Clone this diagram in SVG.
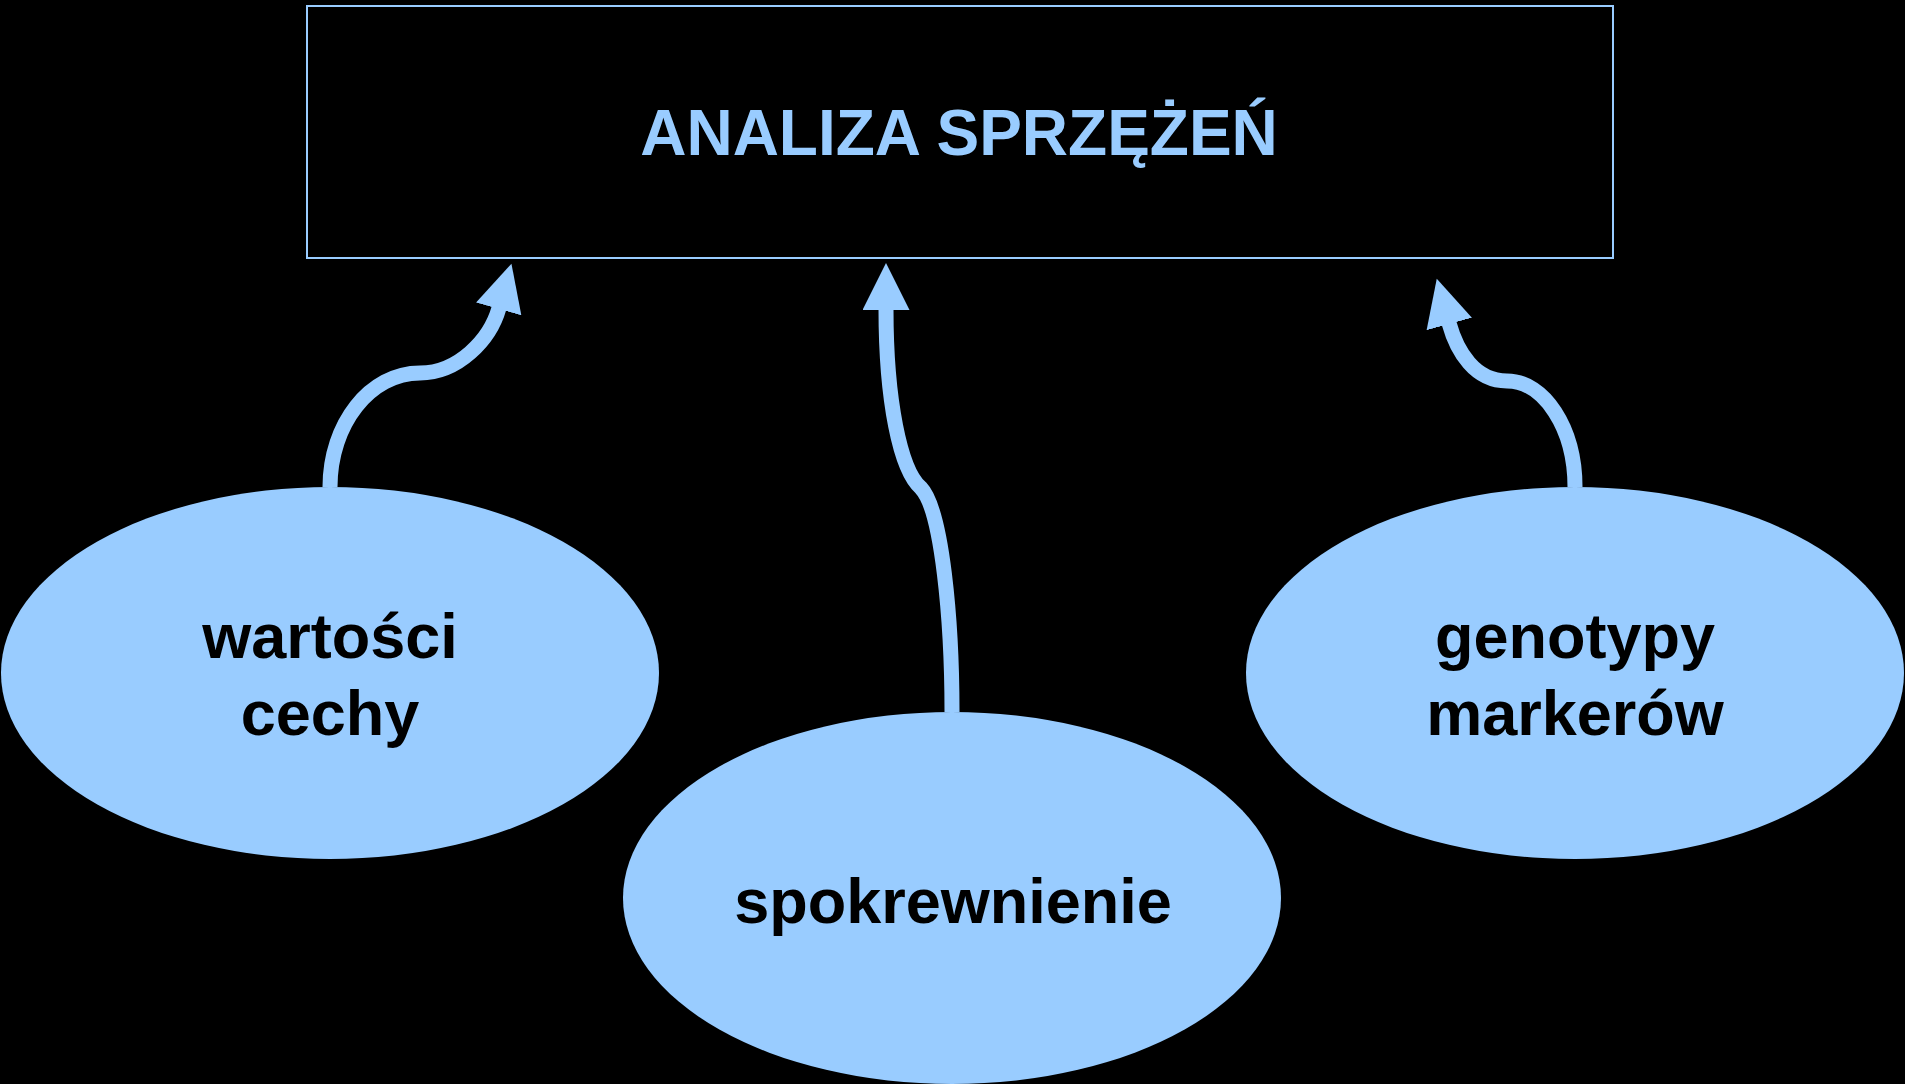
<svg xmlns="http://www.w3.org/2000/svg" width="1905" height="1084" viewBox="0 0 1905 1084">
<style>
.node-shape{fill:#99ccff;stroke:none}
.node-text{font-family:"Liberation Sans",Arial,sans-serif;font-weight:bold;font-size:63px;fill:#000;text-anchor:middle}
.title-text{font-family:"Liberation Sans",Arial,sans-serif;font-weight:bold;font-size:64px;fill:#99ccff;text-anchor:middle}
.conn{fill:none;stroke:#99ccff;stroke-width:15;marker-end:url(#head)}
</style>
<defs>
<marker id="head" markerUnits="userSpaceOnUse" markerWidth="48" markerHeight="48" viewBox="0 0 48 48" refX="1" refY="23.5" orient="auto">
<path d="M0,0 L47,23.5 L0,47 Z" fill="#99ccff"/>
</marker>
</defs>
<rect x="0" y="0" width="1905" height="1084" fill="#000"/>
<g id="analiza">
<rect x="307" y="6" width="1306" height="252" fill="none" stroke="#99ccff" stroke-width="2"/>
<text class="title-text" x="959" y="155">ANALIZA SPRZĘŻEŃ</text>
</g>
<g id="wartosci">
<ellipse class="node-shape" cx="330" cy="673" rx="329" ry="186"/>
<text class="node-text" x="330" y="658">wartości</text>
<text class="node-text" x="330" y="735">cechy</text>
</g>
<g id="spokrewnienie">
<ellipse class="node-shape" cx="952" cy="898" rx="329" ry="186"/>
<text class="node-text" x="953" y="923">spokrewnienie</text>
</g>
<g id="genotypy">
<ellipse class="node-shape" cx="1575" cy="673" rx="329" ry="186"/>
<text class="node-text" x="1575" y="658">genotypy</text>
<text class="node-text" x="1575" y="735">markerów</text>
</g>
<g id="connectors">
<path class="conn" d="M330,487 C330,424 370,373 420,373 C458,373 490,340 499,308"/>
<path class="conn" d="M952,712 C952,620 942,510 921,488 C900,470 886,400 886,309"/>
<path class="conn" d="M1575,487 C1575,428 1544,381 1507,381 C1475,381 1457,352 1449,323"/>
</g>
</svg>
